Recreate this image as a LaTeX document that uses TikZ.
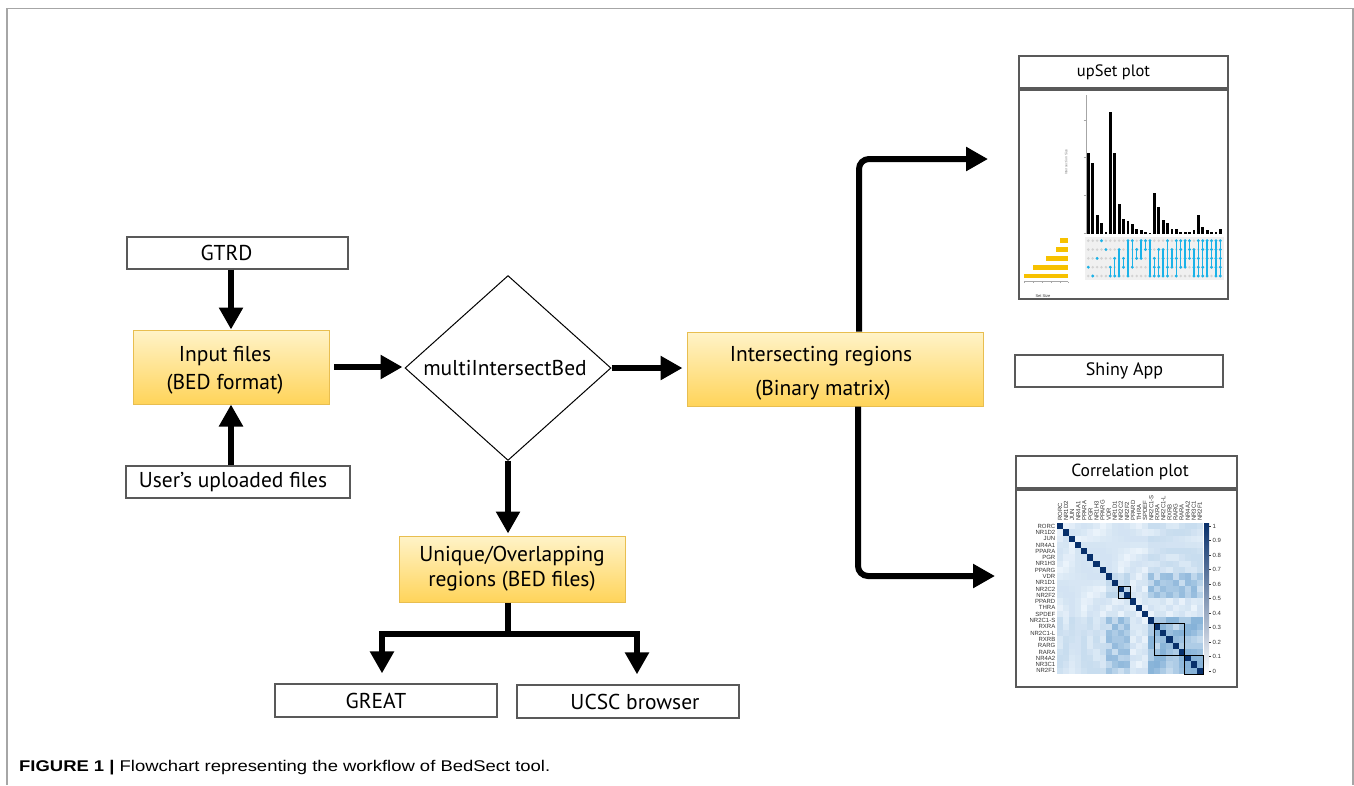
\documentclass[tikz,border=0pt]{standalone}
\usepackage{fontspec}
\setmainfont{PT Sans}
\newfontfamily\capfont[FakeStretch=1.19]{Liberation Sans}
\newfontfamily\plotfont{Liberation Sans}
\usetikzlibrary{arrows.meta,shapes.geometric}
\definecolor{framegray}{HTML}{A6A6A6}
\definecolor{boxgray}{HTML}{595959}
\definecolor{ytop}{HTML}{FFF3C8}
\definecolor{ybot}{HTML}{FFD45A}
\definecolor{ybord}{HTML}{E8BE50}
\definecolor{hmlo}{HTML}{F7FBFF}
\definecolor{hmhi}{HTML}{2171B5}
\definecolor{hmdiag}{HTML}{08306B}
\definecolor{upcyan}{HTML}{1AB2E8}
\definecolor{upgold}{HTML}{F7C100}
\definecolor{dotgray}{HTML}{D2D2D2}
\definecolor{bandgray}{HTML}{F0F0F0}
\definecolor{lblgray}{HTML}{333333}
\newcommand\mainsz{\fontsize{21.5}{25}\selectfont}
\tikzset{
  wbox/.style={draw=boxgray, line width=1.3pt, fill=white, inner sep=0pt, font=\mainsz},
  ybox/.style={draw=ybord, line width=1pt, top color=ytop, bottom color=ybot, inner sep=0pt, align=center, font=\mainsz},
  arr/.style={line width=6pt, -{Triangle[length=22pt,width=23pt]}},
  thk/.style={line width=6pt},
  pframe/.style={draw=boxgray, line width=1.3pt, inner sep=0pt},
  hmlab/.style={font=\plotfont\fontsize{6}{6}\selectfont, text=lblgray, inner sep=0.5pt},
}
\begin{document}
\begin{tikzpicture}[x=1pt,y=-1pt]
\useasboundingbox (0,0) rectangle (1354,785);
% outer frame
\draw[framegray, line width=1.3pt] (7,785) -- (7,8.5) -- (1353,8.5) -- (1353,785);

% flowchart nodes
\node[wbox, minimum width=221pt, minimum height=32pt] (gtrd) at (237.5,253) {GTRD\hspace*{22pt}};
\node[ybox, minimum width=196pt, minimum height=74pt] (input) at (231,367) {\rule{0pt}{22pt}Input files\hspace*{12pt}\\[3pt](BED format)\hspace*{12pt}};
\node[wbox, minimum width=224pt, minimum height=32pt] (user) at (238,482) {User's uploaded files\hspace*{10pt}};
\node[diamond, draw, line width=1pt, minimum width=206pt, minimum height=183pt, inner sep=0pt, font=\mainsz] (mib) at (508,368) {multiIntersectBed\hspace*{6pt}};
\node[ybox, minimum width=296pt, minimum height=74pt] (inter) at (835,369) {\rule{0pt}{24pt}Intersecting regions\hspace*{28pt}\\[9pt](Binary matrix)\hspace*{24pt}};
\node[ybox, minimum width=226pt, minimum height=66pt] (uniq) at (512,569) {Unique/Overlapping\\[0pt]regions (BED files)};
\node[wbox, minimum width=222pt, minimum height=33pt] (great) at (386,700.5) {GREAT\hspace*{20pt}};
\node[wbox, minimum width=222pt, minimum height=33pt] (ucsc) at (628,701.5) {\hspace*{14pt}UCSC browser};
\node[wbox, minimum width=209pt, minimum height=32pt, font=\fontsize{16.5}{19}\selectfont] (upt) at (1123.5,72) {upSet plot\hspace*{20pt}};
\node[wbox, minimum width=208pt, minimum height=32pt, font=\fontsize{18}{21}\selectfont] (shiny) at (1119,371) {\hspace*{11pt}Shiny App};
\node[wbox, minimum width=221pt, minimum height=32pt, font=\fontsize{17.5}{21}\selectfont] (cort) at (1126.5,472) {\hspace*{7pt}Correlation plot};
\node[pframe, minimum width=209pt, minimum height=209pt] (upbox) at (1123.5,194.5) {};
\node[pframe, minimum width=221pt, minimum height=197pt] (corbox) at (1126.5,588.5) {};

% connectors
\coordinate (fork) at (508,634);
\coordinate (upT) at (988,159);
\coordinate (coT) at (995,576);
\draw[arr] (gtrd.south -| input.north) -- (input.north);
\draw[arr] (user.north -| input.south) -- (input.south);
\draw[arr, shorten <=4.5pt, shorten >=2pt] (input.east) -- (input.east -| mib.west);
\draw[arr, shorten >=4pt] (mib.east) -- (mib.east -| inter.west);
\draw[arr, shorten >=2pt] (mib.south) -- (mib.south |- uniq.north);
\draw[thk] (mib.south |- uniq.south) -- (fork);
\draw[arr] (fork) -| ([xshift=-4pt,yshift=10pt]great.north);
\draw[arr] (fork) -| ([xshift=9pt,yshift=10pt]ucsc.north);
\draw[arr, rounded corners=10pt] ([xshift=24pt]inter.north) |- (upT);
\draw[arr, rounded corners=10pt] ([xshift=23pt]inter.south) |- (coT);

% ---------- upSet plot ----------
\draw[gray!70, line width=0.6pt] (1086,95) -- (1086,234);
\foreach \yy in {120.7,157.7,195.7,233.7} {\draw[gray!70, line width=0.5pt] (1083.5,\yy) -- (1086,\yy);}
\foreach \k/\t in {1/153.3,2/163.3,3/215,4/222.7,5/231.7,6/112.3,7/153.3,8/204,9/219.3,10/221,
  11/224,12/229.3,13/230,14/231.7,15/232.7,16/192.7,17/207.3,18/220,19/223.3,20/229,
  21/229,22/231.7,23/232,24/231.7,25/230,26/215.3,27/227.3,28/230,29/231.7,30/232.3,31/229}
  {\fill[black] ({1088.3+(\k-1)*4.4-1.4},234) rectangle ({1088.3+(\k-1)*4.4+1.4},\t);}
\fill[bandgray] (1085,236.5) rectangle (1224,280);
\foreach \k in {1,...,31} {\foreach \r in {1,...,5} {\fill[dotgray] ({1088.3+(\k-1)*4.4},{240.7+(\r-1)*8.83}) circle (1.4pt);}}
\foreach \k/\lo/\hi/\rows in {1/4/4/{4},2/5/5/{5},3/3/3/{3},4/1/1/{1},5/2/2/{2},6/4/5/{4,5},7/3/5/{3,5},
  8/2/5/{2,5},9/3/4/{3,4},10/1/5/{1,5},11/1/4/{1,4},12/2/3/{2,3},13/1/3/{1,3},14/1/2/{1,2},
  15/1/5/{1,2,5},16/3/5/{3,4,5},17/2/5/{2,4,5},18/2/5/{2,3,5},19/1/5/{1,4,5},20/2/4/{2,3,4},
  21/1/5/{1,3,5},22/1/4/{1,2,4},23/1/4/{1,3,4},24/1/3/{1,2,3},25/2/5/{2,3,4,5},26/1/5/{1,3,4,5},
  27/1/5/{1,2,4,5},28/1/5/{1,2,3,5},29/1/4/{1,2,3,4},30/1/5/{1,2,3,4,5},31/1/5/{1,2,3,4,5}}
  {\draw[upcyan, line width=1.3pt] ({1088.3+(\k-1)*4.4},{240.7+(\lo-1)*8.83}) -- ({1088.3+(\k-1)*4.4},{240.7+(\hi-1)*8.83});
   \foreach \r in \rows {\fill[upcyan] ({1088.3+(\k-1)*4.4},{240.7+(\r-1)*8.83}) circle (1.6pt);}}
\foreach \r/\l in {1/1060,2/1056,3/1046,4/1033,5/1024}
  {\fill[upgold] (\l,{240.7+(\r-1)*8.83-2.4}) rectangle (1068,{240.7+(\r-1)*8.83+2.4});}
\draw[gray!70, line width=0.5pt] (1024,281.5) -- (1068,281.5);
\foreach \xx in {1024,1033,1042,1051,1060,1068} {\draw[gray!70, line width=0.4pt] (\xx,281.5) -- (\xx,283);}
\node[font=\plotfont\fontsize{4}{4}\selectfont, text=lblgray, inner sep=0pt] (ssz) at (1043,296) {Set Size};
\node[rotate=90, font=\plotfont\fontsize{3.5}{4}\selectfont, text=gray, inner sep=0pt] (isz) at (1066,162) {Intersection Size};

% ---------- correlation heatmap ----------
\def\cw{6.08}
\def\ch{6.29}
\foreach \i in {1,...,24} {
  \foreach \j in {1,...,24} {
    \ifnum\i=\j
      \fill[hmdiag] ({1057+(\j-1)*\cw},{523+(\i-1)*\ch}) rectangle ({1057+\j*\cw+0.15},{523+\i*\ch+0.15});
    \else
      \pgfmathtruncatemacro\a{min(\i,\j)}
      \pgfmathtruncatemacro\b{max(\i,\j)}
      \pgfmathsetmacro\rr{abs(sin(\a*71.3+\b*137.7+\a*\b*11.1))}
      \pgfmathtruncatemacro\v{min(60, 6+12*\rr + (\a>=16)*(18+18*\rr) + (\a>=9)*(\a<=12)*(\b>=16)*(14+16*\rr) + (\a>=9)*(\a<=12)*(\b>=9)*(\b<=12)*10 + (\a<=8)*(\b>=16)*5)}
      \fill[hmhi!\v!hmlo] ({1057+(\j-1)*\cw},{523+(\i-1)*\ch}) rectangle ({1057+\j*\cw+0.15},{523+\i*\ch+0.15});
    \fi
  }
}
\draw[black, line width=0.6pt] ({1057+10*\cw},{523+10*\ch}) rectangle ({1057+12*\cw},{523+12*\ch});
\draw[black, line width=0.6pt] ({1057+16*\cw},{523+16*\ch}) rectangle ({1057+21*\cw},{523+21*\ch});
\draw[black, line width=0.6pt] ({1057+21*\cw},{523+21*\ch}) rectangle ({1057+24*\cw},{523+24*\ch});
\foreach \n [count=\c] in {RORC,NR1D2,JUN,NR4A1,PPARA,PGR,NR1H3,PPARG,VDR,NR1D1,NR2C2,NR2F2,PPARD,THRA,SPDEF,NR2C1-S,RXRA,NR2C1-L,RXRB,RARG,RARA,NR4A2,NR3C1,NR2F1} {
  \node[hmlab, anchor=east] (rl\c) at (1056,{523+(\c-0.5)*\ch}) {\n};
  \node[hmlab, anchor=west, rotate=90] (cl\c) at ({1057+(\c-0.5)*\cw},521.5) {\n};
}
\shade[top color=hmdiag, middle color=hmhi!70!white, bottom color=white] (1204,523) rectangle (1209,674);
\foreach \v/\t [count=\c] in {1/1,0.9/0.9,0.8/0.8,0.7/0.7,0.6/0.6,0.5/0.5,0.4/0.4,0.3/0.3,0.2/0.2,0.1/0.1,0/0} {
  \draw[lblgray, line width=0.4pt] (1209,{671-145*\v}) -- (1211,{671-145*\v});
  \node[hmlab, anchor=west] (cb\c) at (1212,{671-145*\v}) {\t};
}

% caption
\node[anchor=base west, inner sep=0pt, font=\capfont\fontsize{15.5}{18}\selectfont] (cap) at (19,771.5) {\textbf{FIGURE 1 |} Flowchart representing the workflow of BedSect tool.};
\end{tikzpicture}
\end{document}
